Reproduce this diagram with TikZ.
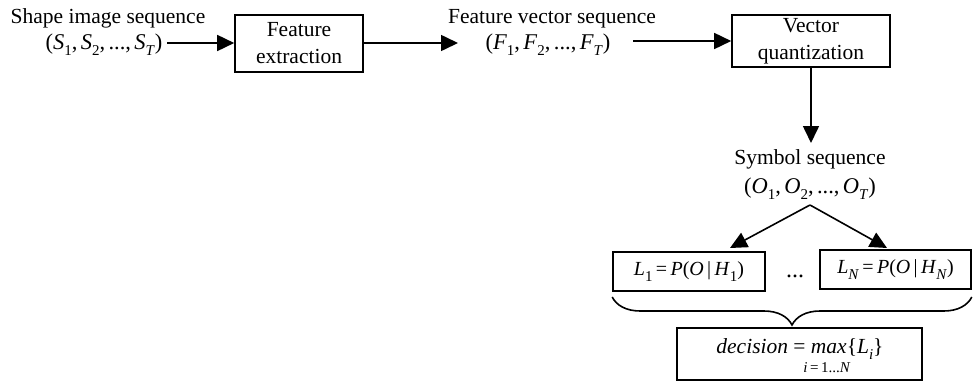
\documentclass[tikz,border=0pt]{standalone}
\usepackage{fontspec}
\setmainfont{Liberation Serif}
\usetikzlibrary{arrows.meta,decorations.pathreplacing}
\newcommand{\lsub}[1]{\raisebox{-0.28em}{\fontsize{15}{15}\selectfont #1}}
\newcommand{\iv}[1]{\textit{#1}}
\newcommand{\cm}{,\hspace{0.15em}}
\begin{document}
\begin{tikzpicture}[x=1pt,y=-1pt,
  txt/.style={font=\fontsize{21.5}{27}\selectfont, inner sep=0pt, anchor=base},
  mth/.style={font=\fontsize{22.5}{27}\selectfont, inner sep=0pt, anchor=base},
  box/.style={draw, line width=1.6pt, inner sep=0pt, align=center,
              font=\fontsize{21.5}{27}\selectfont},
  arr/.style={line width=1.6pt, -{Triangle[length=17pt,width=16pt]}},
  ln/.style={line width=1.6pt}]
\useasboundingbox (0,0) rectangle (978,383);

% top row
\node[txt] (shapeA) at (108,23) {Shape image sequence};
\node[mth] (shapeB) at (104,49) {(\iv{S}\lsub{1}\cm\iv{S}\lsub{2}\cm...\cm\iv{S}\lsub{\iv{T}})};
\node[box, minimum width=128pt, minimum height=57pt] (fe) at (299,43.5) {Feature\\extraction};
\node[txt] (fvA) at (552,23) {Feature vector sequence};
\node[mth] (fvB) at (548,49) {(\iv{F}\lsub{1}\cm\iv{F}\lsub{2}\cm...\cm\iv{F}\lsub{\iv{T}})};
\node[box, minimum width=158pt, minimum height=52pt] (vq) at (811,41) {Vector\\quantization};

\coordinate (s0) at (167,43);
\draw[arr] (s0) -- (fe.west |- s0);
\coordinate (f1) at (458,43);
\draw[arr] (fe.east |- f1) -- (f1);
\coordinate (f0) at (633,41);
\draw[arr] (f0) -- (vq.west |- f0);

% symbol sequence
\coordinate (sd) at (811,143);
\draw[arr] (vq.south) -- (sd);
\node[txt] (symA) at (810,164) {Symbol sequence};
\node[mth] (symB) at (810,193) {(\iv{O}\lsub{1}\cm\iv{O}\lsub{2}\cm...\cm\iv{O}\lsub{\iv{T}})};

% likelihood boxes
\node[box, minimum width=152pt, minimum height=39pt, font=\fontsize{20}{24}\selectfont] (L1) at (689,271.5)
  {\iv{L}\lsub{1}\,=\,\iv{P}(\iv{O}\,|\,\iv{H}\lsub{1})};
\node[box, minimum width=151pt, minimum height=39pt, font=\fontsize{20}{24}\selectfont] (LN) at (895.5,269.5)
  {\iv{L}\lsub{\iv{N}}\,=\,\iv{P}(\iv{O}\,|\,\iv{H}\lsub{\iv{N}})};
\node[txt, font=\fontsize{24}{24}\selectfont] (dots) at (795,277) {...};

\coordinate (apex) at (810,205);
\coordinate (tipL) at (730,248);
\coordinate (tipR) at (887,248);
\draw[arr] (apex) -- (tipL);
\draw[arr] (apex) -- (tipR);

% brace
\draw[ln, decorate, decoration={brace, mirror, amplitude=28pt}]
  (L1.south west |- 0,297) -- (LN.south east |- 0,297);

% decision
\node[box, minimum width=245pt, minimum height=52pt] (dec) at (799.5,354) {};
\node[txt] (decA) at (800,353) {\iv{decision} = \iv{max}\{\iv{L}\lsub{\iv{i}}\}};
\node[txt, font=\fontsize{15}{17}\selectfont] (decB) at (827,372) {\iv{i}\,=\,1...\iv{N}};
\end{tikzpicture}
\end{document}
